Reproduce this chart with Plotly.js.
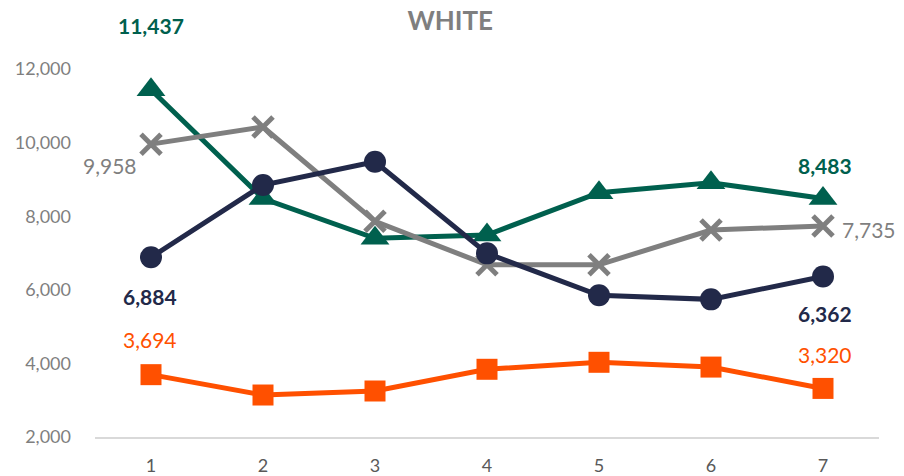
<!DOCTYPE html>
<html>
<head>
<meta charset="utf-8">
<script src="https://cdn.plot.ly/plotly-3.0.1.min.js"></script>
<style>html,body{margin:0;padding:0;background:#fff;}#chart{width:904px;height:476px;}</style>
</head>
<body>
<div id="chart"></div>
<script>
const categories = ['1','2','3','4','5','6','7'];
const greenValues  = [11437, 8480, 7400, 7490, 8640, 8910, 8483];
const navyValues   = [6884, 8848, 9480, 6990, 5850, 5740, 6362];
const grayValues   = [9958, 10424, 7860, 6680, 6680, 7625, 7735];
const orangeValues = [3694, 3141, 3250, 3840, 4030, 3900, 3320];
const yTickVals = [2000, 4000, 6000, 8000, 10000, 12000];
const yTickText = ['2,000', '4,000', '6,000', '8,000', '10,000', '12,000'];

const fmt = v => v.toLocaleString('en-US');
const FONT = 'Lato, "Open Sans", sans-serif';

const series = [
  {name:'Green', y:greenValues, color:'#00604e', symbol:'triangle-up', size:25, lw:0},
  {name:'Gray', y:grayValues, color:'#7f7f7f', symbol:'x-thin', size:20, lw:5},
  {name:'Navy', y:navyValues, color:'#222949', symbol:'circle', size:22, lw:0},
  {name:'Orange', y:orangeValues, color:'#ff5000', symbol:'square', size:21, lw:0}
];

const traces = series.map(s => ({
  type:'scatter', mode:'lines+markers', x:categories, y:s.y, name:s.name,
  line:{color:s.color, width:5},
  marker:{symbol:s.symbol, size:s.size, color:s.color, line:{color:s.color, width:s.lw}},
  hoverinfo:'skip', cliponaxis:false
}));

// labels on first and last points
const labelSpecs = [
  {y:greenValues, color:'#00604e', bold:true, pos:[{i:0, xs:0, ys:64}, {i:6, xs:2, ys:33}]},
  {y:grayValues, color:'#7f7f7f', bold:false, pos:[{i:0, xs:-41, ys:-21}, {i:6, xs:46, ys:-4}]},
  {y:navyValues, color:'#222949', bold:true, pos:[{i:0, xs:-1, ys:-39}, {i:6, xs:2, ys:-37}]},
  {y:orangeValues, color:'#ff5000', bold:false, pos:[{i:0, xs:-1, ys:35}, {i:6, xs:2, ys:34}]}
];
const annotations = [];
labelSpecs.forEach(s => s.pos.forEach(p => {
  const v = s.y[p.i];
  annotations.push({
    x:p.i, y:v, xref:'x', yref:'y',
    text: s.bold ? '<b>'+fmt(v)+'</b>' : fmt(v),
    showarrow:false, xshift:p.xs, yshift:p.ys,
    font:{family:FONT, size:21, color:s.color}
  });
}));

const layout = {
  width:904, height:476,
  margin:{l:95, r:25, t:69, b:39},
  paper_bgcolor:'#fff', plot_bgcolor:'#fff',
  showlegend:false,
  title:{text:'<b>WHITE</b>', x:0.498, xanchor:'center', y:0.957, yanchor:'middle',
    font:{family:FONT, size:26, color:'#7f7f7f'}},
  xaxis:{type:'category', range:[-0.5, 6.5], showgrid:false, zeroline:false,
    showline:true, linecolor:'#d9d9d9', linewidth:1.5, ticks:'', ticklabelstandoff:12,
    tickfont:{family:FONT, size:18, color:'#595959'}, fixedrange:true},
  yaxis:{range:[2000, 12000], showgrid:false, zeroline:false, showline:false,
    tickvals:yTickVals, ticktext:yTickText, ticks:'', ticklen:0, ticklabelstandoff:23,
    tickfont:{family:FONT, size:18, color:'#7f7f7f'}, fixedrange:true},
  annotations:annotations
};

Plotly.newPlot('chart', traces, layout, {displayModeBar:false, staticPlot:true});
</script>
</body>
</html>
